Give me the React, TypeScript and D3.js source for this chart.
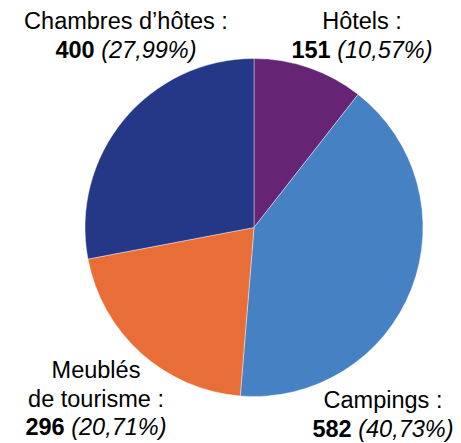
import React from "react";
import * as d3 from "d3";

const categories = ["Hôtels", "Campings", "Meublés de tourisme", "Chambres d'hôtes"];
const values = [151, 582, 296, 400];
const percents = ["10,57%", "40,73%", "20,71%", "27,99%"];
const colors = ["#652574", "#4581C3", "#E86D37", "#253887"];

type Label = { lines: string[]; x: number; y: number };
const labels: Label[] = [
  { lines: ["Hôtels :"], x: 362, y: 29 },
  { lines: ["Campings :"], x: 383, y: 408 },
  { lines: ["Meublés", "de tourisme :"], x: 96, y: 378 },
  { lines: ["Chambres d\u2019hôtes :"], x: 126, y: 29 },
];

export default function App() {
  const W = 461, H = 443;
  const cx = 254, cy = 227.5, r = 169;
  const pie = d3.pie<number>().sort(null).value((d) => d);
  const arcs = pie(values);
  const arc = d3.arc<d3.PieArcDatum<number>>().innerRadius(0).outerRadius(r);
  const font = "'Liberation Sans', Arial, Helvetica, sans-serif";
  const lh = 28.5;
  return (
    <svg width={W} height={H} style={{ position: "absolute", left: 0, top: 0 }}>
      <rect width={W} height={H} fill="#fff" />
      <g transform={`translate(${cx},${cy})`}>
        {arcs.map((a, i) => (
          <path key={categories[i]} d={arc(a) || ""} fill={colors[i]} stroke="#ffffff" strokeWidth={0.4} />
        ))}
      </g>
      {labels.map((l, i) => (
        <text key={i} textAnchor="middle" fontFamily={font} fontSize={23.5} fill="#000">
          {l.lines.map((ln, j) => (
            <tspan key={j} x={l.x} y={l.y + j * lh}>{ln}</tspan>
          ))}
          <tspan x={l.x} y={l.y + l.lines.length * lh} fontWeight="bold">{values[i]}</tspan>
          <tspan fontStyle="italic"> ({percents[i]})</tspan>
        </text>
      ))}
    </svg>
  );
}
